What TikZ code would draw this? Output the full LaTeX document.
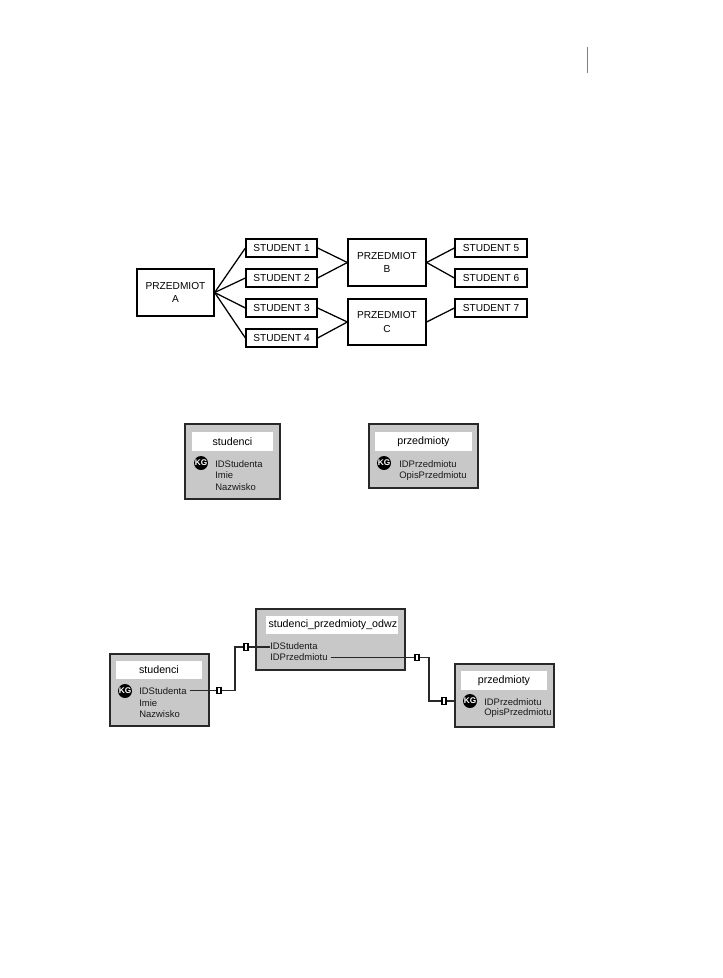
\documentclass[tikz,border=0pt]{standalone}
\usepackage{fontspec}
\setmainfont{Liberation Sans}
\definecolor{tablegray}{RGB}{200,200,200}
\definecolor{edgegray}{RGB}{40,40,40}
\begin{document}
\begin{tikzpicture}[x=0.75pt,y=-0.75pt,
  wh/.style 2 args={minimum width=#1*0.75pt,minimum height=#2*0.75pt},
  box/.style={draw=black,line width=0.95pt,fill=white,inner sep=0pt,align=center,font=\fontsize{7.6}{9.8}\selectfont},
  tablebox/.style={draw=edgegray,line width=1.1pt,fill=tablegray,inner sep=0pt},
  header/.style={fill=white,inner sep=0pt,font=\fontsize{8}{10}\selectfont},
  field/.style={inner sep=0pt,anchor=west,text=black!90,font=\fontsize{7.1}{9}\selectfont},
  kg/.style={circle,fill=black,text=white,inner sep=0pt,minimum size=10.5pt,font=\bfseries\fontsize{6.2}{7}\selectfont},
  link/.style={line width=1.1pt,edgegray},
  marker/.style={draw=black,line width=0.8pt,fill=white,inner sep=0pt,minimum width=3pt,minimum height=5pt}]
\useasboundingbox (0,0) rectangle (723,978);
\coordinate (ruleA) at (587,47);
\coordinate (ruleB) at (587,73);
\draw [gray, line width=0.6pt] (ruleA)--(ruleB);
\node [box,wh={77}{47}] (przA) at (175.5,292.5) {PRZEDMIOT\\A};
\node [box,wh={71}{18}] (st1) at (281.5,248) {STUDENT 1};
\node [box,wh={71}{18}] (st2) at (281.5,278) {STUDENT 2};
\node [box,wh={71}{18}] (st3) at (281.5,308) {STUDENT 3};
\node [box,wh={71}{18}] (st4) at (281.5,338) {STUDENT 4};
\node [box,wh={78}{47}] (przB) at (387,262.5) {PRZEDMIOT\\B};
\node [box,wh={78}{46}] (przC) at (387,322) {PRZEDMIOT\\C};
\node [box,wh={72}{18}] (st5) at (491,248) {STUDENT 5};
\node [box,wh={72}{18}] (st6) at (491,278) {STUDENT 6};
\node [box,wh={72}{18}] (st7) at (491,308) {STUDENT 7};
\draw [line width=0.95pt] (przA.east)--(st1.west);
\draw [line width=0.95pt] (przA.east)--(st2.west);
\draw [line width=0.95pt] (przA.east)--(st3.west);
\draw [line width=0.95pt] (przA.east)--(st4.west);
\draw [line width=0.95pt] (st1.east)--(przB.west);
\draw [line width=0.95pt] (st2.east)--(przB.west);
\draw [line width=0.95pt] (st3.east)--(przC.west);
\draw [line width=0.95pt] (st4.east)--(przC.west);
\draw [line width=0.95pt] (przB.east)--(st5.west);
\draw [line width=0.95pt] (przB.east)--(st6.west);
\draw [line width=0.95pt] (przC.east)--(st7.west);
\node [tablebox,wh={95}{75}] (stud) at (232.5,461.5) {};
\node [header,wh={81}{19}] (studH) at (232.5,441.5) {studenci};
\node [kg] (studK) at (201,463) {KG};
\node [field] (studF1) at (215,464) {IDStudenta};
\node [field] (studF2) at (215,475.5) {Imie};
\node [field] (studF3) at (215,487) {Nazwisko};
\node [tablebox,wh={109}{64}] (prz) at (423.5,456) {};
\node [header,wh={97}{19}] (przH) at (423.5,441.5) {przedmioty};
\node [kg] (przK) at (384,463) {KG};
\node [field] (przF1) at (399,464) {IDPrzedmiotu};
\node [field] (przF2) at (399,476) {OpisPrzedmiotu};
\node [tablebox,wh={99}{72}] (stud2) at (159.5,690) {};
\node [header,wh={86}{18}] (stud2H) at (159,670) {studenci};
\node [kg] (stud2K) at (125,691) {KG};
\node [field] (stud2F1) at (139,691.5) {IDStudenta};
\node [field] (stud2F2) at (139,703) {Imie};
\node [field] (stud2F3) at (139,714.5) {Nazwisko};
\node [tablebox,wh={149}{61}] (odw) at (330.5,639.5) {};
\node [header,wh={132}{18},text width=127*0.75pt,align=center] (odwH) at (332,625) {studenci\_przedmioty\_odwz};
\node [field] (odwF1) at (270,646) {IDStudenta};
\node [field] (odwF2) at (270,657.5) {IDPrzedmiotu};
\node [tablebox,wh={99}{63}] (prz2) at (504.5,695.5) {};
\node [header,wh={86}{19}] (prz2H) at (504,680.5) {przedmioty};
\node [kg] (prz2K) at (470,701) {KG};
\node [field] (prz2F1) at (484,702) {IDPrzedmiotu};
\node [field] (prz2F2) at (484,713.5) {OpisPrzedmiotu};
\coordinate (linkB) at (235,690.5);
\coordinate (linkC) at (235,647);
\coordinate (linkA) at ([xshift=2pt]stud2F1.east |- linkB);
\coordinate (linkD) at ([xshift=2pt]odwF2.east);
\coordinate (linkE) at (429,657.5);
\coordinate (linkF) at (429,701);
\draw [link] (linkA)--(linkB)--(linkC)--(odwF1.west |- linkC);
\draw [link] (linkD)--(linkE)--(linkF)--(prz2.west |- linkF);
\node [marker] (mark1) at (219,690.5) {};
\node [marker] (mark2) at (246,647) {};
\node [marker] (mark3) at (417,657.5) {};
\node [marker] (mark4) at (444,701) {};
\end{tikzpicture}
\end{document}
